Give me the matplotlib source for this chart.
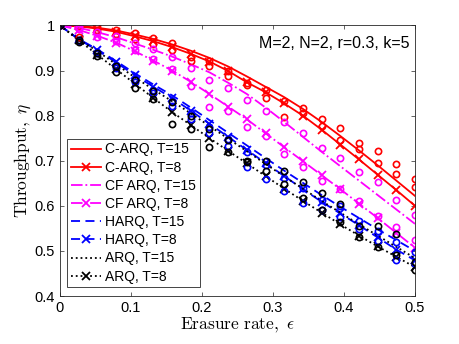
import numpy as np
import matplotlib.pyplot as plt

plt.rcParams['font.family'] = ['Liberation Sans', 'DejaVu Sans']
plt.rcParams['mathtext.fontset'] = 'cm'

eps = np.linspace(0, 0.5, 20)

# analytical curves
carq_15 = [1.000, 0.999, 0.995, 0.989, 0.980, 0.970, 0.958, 0.944, 0.928, 0.909,
           0.887, 0.864, 0.841, 0.815, 0.786, 0.755, 0.723, 0.690, 0.656, 0.622]
carq_8 = [1.000, 0.998, 0.993, 0.986, 0.976, 0.965, 0.952, 0.937, 0.920, 0.899,
          0.874, 0.852, 0.827, 0.800, 0.769, 0.736, 0.703, 0.669, 0.635, 0.600]
cf_15 = [1.000, 0.995, 0.985, 0.974, 0.960, 0.946, 0.931, 0.914, 0.896, 0.873,
         0.848, 0.818, 0.786, 0.753, 0.720, 0.688, 0.656, 0.624, 0.592, 0.560]
cf_8 = [1.000, 0.990, 0.977, 0.962, 0.943, 0.922, 0.900, 0.875, 0.848, 0.820,
        0.792, 0.761, 0.730, 0.699, 0.668, 0.637, 0.605, 0.573, 0.540, 0.507]
harq_15 = [1.000, 0.970, 0.947, 0.921, 0.894, 0.869, 0.845, 0.818, 0.790, 0.762,
           0.734, 0.706, 0.678, 0.651, 0.624, 0.598, 0.573, 0.548, 0.524, 0.500]
harq_8 = [1.000, 0.969, 0.945, 0.918, 0.890, 0.864, 0.839, 0.811, 0.782, 0.753,
          0.724, 0.695, 0.666, 0.637, 0.609, 0.583, 0.557, 0.530, 0.503, 0.479]
arq_15 = [1.000, 0.969, 0.943, 0.914, 0.885, 0.858, 0.832, 0.805, 0.777, 0.749,
          0.721, 0.693, 0.665, 0.638, 0.611, 0.585, 0.559, 0.534, 0.509, 0.484]
arq_8 = [1.000, 0.967, 0.935, 0.903, 0.871, 0.839, 0.808, 0.779, 0.750, 0.722,
         0.694, 0.666, 0.638, 0.611, 0.585, 0.559, 0.534, 0.510, 0.487, 0.464]

# simulation points (open circles)
sim_red_a = [1.000, 0.998, 0.996, 0.990, 0.983, 0.972, 0.960, 0.929, 0.921, 0.899,
             0.873, 0.857, 0.833, 0.817, 0.793, 0.773, 0.740, 0.721, 0.692, 0.660]
sim_red_b = [1.000, 0.975, 0.990, 0.982, 0.970, 0.958, 0.945, 0.921, 0.911, 0.888,
             0.868, 0.839, 0.797, 0.805, 0.778, 0.745, 0.727, 0.696, 0.671, 0.641]
sim_mag_a = [1.000, 0.997, 0.985, 0.976, 0.962, 0.948, 0.930, 0.906, 0.880, 0.862,
             0.834, 0.810, 0.785, 0.761, 0.729, 0.707, 0.676, 0.653, 0.613, 0.579]
sim_mag_b = [1.000, 0.993, 0.975, 0.965, 0.945, 0.925, 0.903, 0.866, 0.819, 0.810,
             0.774, 0.755, 0.715, 0.686, 0.655, 0.638, 0.610, 0.578, 0.554, 0.525]
sim_blue_a = [1.000, 0.968, 0.942, 0.912, 0.882, 0.857, 0.832, 0.806, 0.775, 0.748,
              0.720, 0.690, 0.662, 0.640, 0.612, 0.599, 0.567, 0.545, 0.519, 0.497]
sim_blue_b = [1.000, 0.965, 0.938, 0.905, 0.875, 0.850, 0.822, 0.793, 0.762, 0.732,
              0.685, 0.659, 0.633, 0.607, 0.590, 0.575, 0.548, 0.522, 0.479, 0.470]
sim_blk_a = [1.000, 0.967, 0.940, 0.910, 0.880, 0.855, 0.830, 0.800, 0.770, 0.745,
             0.700, 0.700, 0.677, 0.652, 0.628, 0.604, 0.555, 0.556, 0.538, 0.475]
sim_blk_b = [1.000, 0.963, 0.932, 0.897, 0.862, 0.838, 0.781, 0.770, 0.730, 0.720,
             0.698, 0.677, 0.648, 0.617, 0.590, 0.565, 0.530, 0.508, 0.490, 0.457]

fig = plt.figure(figsize=(4.59, 3.44), dpi=100)
ax = fig.add_axes([0.1307, 0.1395, 0.7734, 0.7865])

lw = 1.3
ax.plot(eps, carq_15, color='red', ls='-', lw=lw, label='C-ARQ, T=15')
ax.plot(eps, carq_8, color='red', ls='-', lw=lw, marker='x', ms=6, mew=1.3, label='C-ARQ, T=8')
ax.plot(eps, cf_15, color='magenta', ls='-.', lw=lw, label='CF ARQ, T=15')
ax.plot(eps, cf_8, color='magenta', ls='-.', lw=lw, marker='x', ms=6, mew=1.3, label='CF ARQ, T=8')
ax.plot(eps, harq_15, color='blue', ls=(0, (5, 3)), lw=lw, label='HARQ, T=15')
ax.plot(eps, harq_8, color='blue', ls=(0, (5, 3)), lw=lw, marker='x', ms=6, mew=1.3, label='HARQ, T=8')
ax.plot(eps, arq_15, color='black', ls=':', lw=lw, label='ARQ, T=15')
ax.plot(eps, arq_8, color='black', ls=':', lw=lw, marker='x', ms=6, mew=1.3, label='ARQ, T=8')

circ = dict(ls='none', marker='o', ms=4.5, mfc='none', mew=1.2)
for ys, c in [(sim_red_a, 'red'), (sim_red_b, 'red'), (sim_mag_a, 'magenta'),
              (sim_mag_b, 'magenta'), (sim_blue_a, 'blue'), (sim_blue_b, 'blue'),
              (sim_blk_a, 'black'), (sim_blk_b, 'black')]:
    ax.plot(eps, ys, color=c, **circ)

ax.set_xlim(0, 0.5)
ax.set_ylim(0.4, 1.0)
ax.set_xticks([0, 0.1, 0.2, 0.3, 0.4, 0.5])
ax.set_xticklabels(['0', '0.1', '0.2', '0.3', '0.4', '0.5'])
ax.set_yticks([0.4, 0.5, 0.6, 0.7, 0.8, 0.9, 1.0])
ax.set_yticklabels(['0.4', '0.5', '0.6', '0.7', '0.8', '0.9', '1'])
ax.tick_params(direction='in', top=True, right=True, labelsize=10.5, length=3,
               color='0.15', width=0.5)
for s in ax.spines.values():
    s.set_color('0.15')
    s.set_linewidth(0.6)

ax.set_xlabel(r'$\mathrm{Erasure\ rate,}\ \epsilon$', fontsize=12.5, labelpad=1)
ax.set_ylabel(r'$\mathrm{Throughput,}\ \eta$', fontsize=12.5, labelpad=1)

ax.text(0.985, 0.935, 'M=2, N=2, r=0.3, k=5', transform=ax.transAxes,
        ha='right', va='center', fontsize=11.5)

leg = ax.legend(loc='lower left', bbox_to_anchor=(0.02, 0.033), borderaxespad=0,
                fontsize=10, handlelength=2.2, handletextpad=0.3, labelspacing=0.3,
                borderpad=0.25, fancybox=False, framealpha=1, edgecolor='0.15')
leg.get_frame().set_linewidth(0.6)

fig.savefig('out.png', dpi=100)
